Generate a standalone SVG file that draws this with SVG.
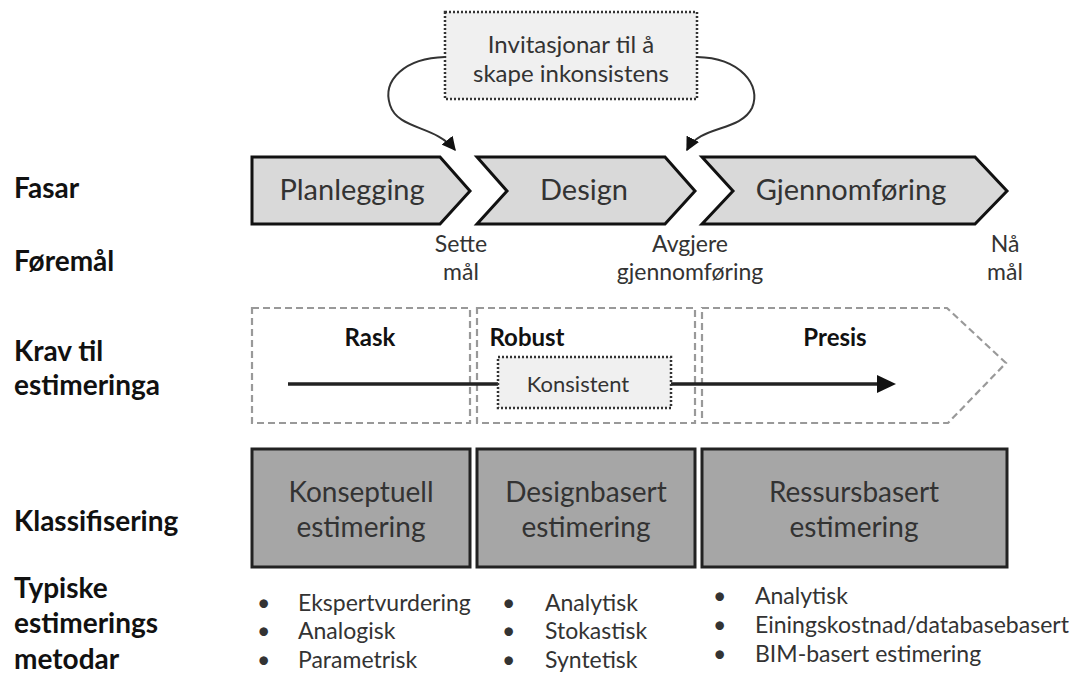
<svg xmlns="http://www.w3.org/2000/svg" width="1083" height="676" viewBox="0 0 1083 676">
<defs>
<style>
.lbl{font-family:Lato,"Liberation Sans",sans-serif;font-weight:bold;font-size:28px;fill:#111}
.t{font-family:Lato,"Liberation Sans",sans-serif;fill:#333;text-anchor:middle}
.b{font-family:Lato,"Liberation Sans",sans-serif;fill:#333;font-size:23px}
.chev{fill:#d9d9d9;stroke:#111;stroke-width:3;stroke-linejoin:miter}
.dash{fill:#fff;stroke:#999;stroke-width:2.2;stroke-dasharray:7 4}
.dot{fill:#f0f0f0;stroke:#333;stroke-width:2.5;stroke-dasharray:2 2}
.dark{fill:#a6a6a6;stroke:#222;stroke-width:3}
.bold{font-weight:bold;fill:#111}
</style>
<marker id="ah" viewBox="0 0 10 10" refX="9" refY="5" markerWidth="7" markerHeight="7" orient="auto" markerUnits="strokeWidth">
<path d="M0,0 L10,5 L0,10 Z" fill="#111"/>
</marker>
</defs>
<rect width="1083" height="676" fill="#fff"/>

<g id="row-labels">
<text class="lbl" x="14" y="198">Fasar</text>
<text class="lbl" x="14" y="271">Føremål</text>
<text class="lbl" x="14" y="361">Krav til</text>
<text class="lbl" x="14" y="395">estimeringa</text>
<text class="lbl" x="14" y="531">Klassifisering</text>
<text class="lbl" x="14" y="598">Typiske</text>
<text class="lbl" x="14" y="633">estimerings</text>
<text class="lbl" x="14" y="669">metodar</text>
</g>

<g id="invitation">
<rect class="dot" x="445" y="12" width="252" height="87"/>
<text class="t" x="571" y="53" font-size="24">Invitasjonar til å</text>
<text class="t" x="571" y="82" font-size="24">skape inkonsistens</text>
</g>

<g id="phase-planlegging">
<polygon class="chev" points="252,157 440,157 470,191 440,224 252,224"/>
<text class="t" x="352" y="200" font-size="29">Planlegging</text>
</g>
<g id="phase-design">
<polygon class="chev" points="477,157 665,157 695,191 665,224 477,224 507,191"/>
<text class="t" x="584" y="200" font-size="29">Design</text>
</g>
<g id="phase-gjennomforing">
<polygon class="chev" points="702,157 975,157 1007,191 975,224 702,224 733,191"/>
<text class="t" x="851" y="200" font-size="29">Gjennomføring</text>
</g>

<g id="goals">
<text class="t" x="461" y="252" font-size="23">Sette</text>
<text class="t" x="461" y="280" font-size="23">mål</text>
<text class="t" x="690" y="252" font-size="23">Avgjere</text>
<text class="t" x="690" y="280" font-size="23">gjennomføring</text>
<text class="t" x="1005" y="252" font-size="23">Nå</text>
<text class="t" x="1005" y="280" font-size="23">mål</text>
</g>

<g id="req-rask">
<rect class="dash" x="252" y="308" width="218" height="115"/>
<text class="t bold" x="370" y="346" font-size="24">Rask</text>
</g>
<g id="req-robust">
<rect class="dash" x="477" y="308" width="218" height="115"/>
<text class="t bold" x="527" y="346" font-size="24">Robust</text>
</g>
<g id="req-presis">
<polygon class="dash" points="702,308 947,308 1006,363 948,423 702,423"/>
<text class="t bold" x="835" y="346" font-size="24">Presis</text>
</g>

<g id="connectors">
<path d="M445,57 C405,58 382,80 390,105 C398,130 435,125 455,150" fill="none" stroke="#333" stroke-width="2" marker-end="url(#ah)"/>
<path d="M697,57 C740,58 762,85 752,108 C740,132 700,125 687,150" fill="none" stroke="#333" stroke-width="2" marker-end="url(#ah)"/>
<line x1="288" y1="384" x2="880" y2="384" stroke="#222" stroke-width="3.5"/>
<polygon points="877,375 896,384 877,393" fill="#111"/>
</g>

<g id="konsistent">
<rect class="dot" x="498" y="357" width="173" height="51"/>
<text class="t" x="578" y="392" font-size="22">Konsistent</text>
</g>

<g id="class-konseptuell">
<rect class="dark" x="252" y="449" width="218" height="118"/>
<text class="t" x="361" y="502" font-size="28">Konseptuell</text>
<text class="t" x="361" y="537" font-size="28">estimering</text>
</g>
<g id="class-designbasert">
<rect class="dark" x="477" y="449" width="218" height="118"/>
<text class="t" x="586" y="502" font-size="28">Designbasert</text>
<text class="t" x="586" y="537" font-size="28">estimering</text>
</g>
<g id="class-ressursbasert">
<rect class="dark" x="702" y="449" width="305" height="118"/>
<text class="t" x="854" y="502" font-size="28">Ressursbasert</text>
<text class="t" x="854" y="537" font-size="28">estimering</text>
</g>

<g id="methods-1">
<text class="b" x="257" y="611">•</text><text class="b" x="298" y="611">Ekspertvurdering</text>
<text class="b" x="257" y="639">•</text><text class="b" x="298" y="639">Analogisk</text>
<text class="b" x="257" y="668">•</text><text class="b" x="298" y="668">Parametrisk</text>
</g>
<g id="methods-2">
<text class="b" x="502" y="611">•</text><text class="b" x="545" y="611">Analytisk</text>
<text class="b" x="502" y="639">•</text><text class="b" x="545" y="639">Stokastisk</text>
<text class="b" x="502" y="668">•</text><text class="b" x="545" y="668">Syntetisk</text>
</g>
<g id="methods-3">
<text class="b" x="713" y="604">•</text><text class="b" x="755" y="604">Analytisk</text>
<text class="b" x="713" y="633">•</text><text class="b" x="755" y="633">Einingskostnad/databasebasert</text>
<text class="b" x="713" y="662">•</text><text class="b" x="755" y="662">BIM-basert estimering</text>
</g>
</svg>
